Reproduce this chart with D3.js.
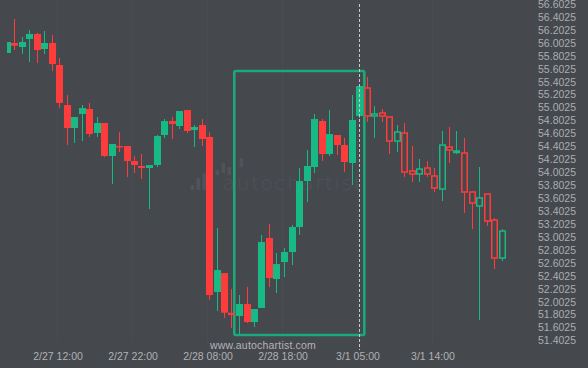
<!DOCTYPE html>
<html>
<head>
<meta charset="utf-8">
<script src="https://cdn.jsdelivr.net/npm/d3@7"></script>
<style>
  html, body { margin: 0; padding: 0; background: #45484d; }
  svg { display: block; font-family: "Liberation Sans", Arial, sans-serif; }
</style>
</head>
<body>
<svg id="chart" width="588" height="368"></svg>
<script>
// hourly candles, index 0 = first bar on screen
const opens  = [55.845, 56.000, 55.938, 56.062, 56.139, 55.907, 56.000, 55.660, 55.042, 54.686,
                54.903, 54.980, 54.609, 54.763, 54.253, 54.408, 54.408, 54.176, 54.099, 54.068,
                54.114, 54.578, 54.794, 54.717, 54.964, 54.655, 54.732, 54.547, 52.152, 52.445,
                51.832, 51.781, 51.966, 51.688, 51.905, 52.986, 52.352, 52.615, 52.770, 53.156,
                53.867, 54.083, 54.794, 54.284, 54.578, 54.423, 54.145, 54.872, 55.304, 54.872,
                54.918, 54.856, 54.485, 54.609, 54.022, 53.975, 54.068, 53.945, 53.743, 54.392,
                54.315, 54.300, 53.697, 53.481, 53.666, 53.264, 52.677];
const highs  = [56.015, 56.371, 56.093, 56.201, 56.154, 56.185, 56.123, 55.768, 55.196, 54.856,
                55.042, 55.073, 54.856, 54.763, 54.439, 54.624, 54.408, 54.253, 54.284, 54.114,
                54.578, 54.825, 54.856, 54.949, 54.964, 54.732, 54.825, 54.624, 53.141, 52.445,
                52.198, 52.105, 52.229, 51.889, 53.033, 53.203, 52.755, 52.832, 53.187, 54.068,
                54.346, 54.903, 54.825, 54.964, 54.578, 54.532, 55.196, 55.366, 55.474, 55.026,
                54.980, 54.856, 54.732, 54.763, 54.408, 54.207, 54.176, 54.068, 54.640, 54.702,
                54.640, 54.532, 53.713, 54.083, 53.666, 53.295, 53.125];
const lows   = [55.845, 55.892, 55.830, 55.706, 55.691, 55.830, 55.567, 54.995, 54.423, 54.454,
                54.485, 54.547, 54.547, 54.238, 53.821, 54.315, 53.929, 53.991, 53.898, 53.434,
                54.083, 54.532, 54.516, 54.671, 54.609, 54.392, 54.408, 52.028, 51.858, 51.750,
                51.595, 51.503, 51.673, 51.611, 51.905, 52.229, 52.136, 52.383, 52.569, 53.033,
                53.543, 53.991, 54.176, 54.253, 54.269, 54.006, 53.805, 54.841, 54.779, 54.532,
                54.779, 54.284, 54.315, 53.929, 53.852, 53.852, 53.929, 53.697, 53.558, 54.145,
                54.284, 53.372, 53.125, 51.719, 53.172, 52.507, 52.631];
const closes = [56.015, 55.958, 56.015, 56.139, 55.892, 56.000, 55.675, 55.073, 54.686, 54.856,
                54.995, 54.593, 54.763, 54.253, 54.439, 54.392, 54.176, 54.114, 54.068, 54.114,
                54.562, 54.794, 54.748, 54.949, 54.640, 54.702, 54.516, 52.105, 52.491, 51.832,
                51.796, 51.966, 51.688, 51.889, 52.924, 52.368, 52.584, 52.770, 53.156, 53.867,
                54.099, 54.825, 54.284, 54.593, 54.423, 54.161, 54.810, 55.335, 54.872, 54.903,
                54.872, 54.485, 54.624, 54.006, 53.975, 54.052, 53.975, 53.759, 54.423, 54.346,
                54.331, 53.697, 53.527, 53.605, 53.249, 52.677, 53.094];
const firstForecast = 48;   // bars from here are drawn hollow

const xTickIdx = [7, 17, 27, 37, 47, 57];
const xTickLabels = ["2/27 12:00", "2/27 22:00", "2/28 08:00", "2/28 18:00", "3/1 05:00", "3/1 14:00"];
const yTicks = d3.range(27).map(i => 51.4025 + i * 0.2);

// pattern box [from index, to index, top price, bottom price] and the time marker
const boxIdx = [30.37, 47.71];
const boxPrice = [55.567, 51.487];
const markerIdx = 47;

const logoBars = [[-9.5, 185, 190], [-3.5, 178, 190], [2.5, 173, 190], [15.5, 170, 175],
                  [21.5, 163, 173], [27.5, 167, 175], [39.5, 158, 167]];

document.addEventListener("DOMContentLoaded", function () {
    const green = "#17b985";
    const red = "#ff3c3c";
    const bg = "#45484d";

    const svg = d3.select("#chart");

    const x = d3.scaleLinear().domain([0, 66]).range([6.5, 501.5]);
    const y = d3.scaleLinear().domain([51.4025, 56.6025]).range([340.5, 4]);

    const data = opens.map((o, i) => ({
        i: i, o: o, h: highs[i], l: lows[i], c: closes[i],
        up: closes[i] >= o, hollow: i >= firstForecast
    }));

    // plot area starts a few px in from the left edge
    svg.append("defs").append("clipPath")
        .attr("id", "plot-clip")
        .append("rect")
        .attr("x", 7).attr("y", 0)
        .attr("width", 530).attr("height", 368);

    // faint vertical grid at time ticks
    svg.append("g")
        .selectAll("line")
        .data(xTickIdx)
        .join("line")
        .attr("x1", d => x(d) - 1.5)
        .attr("x2", d => x(d) - 1.5)
        .attr("y1", 0)
        .attr("y2", 342)
        .attr("stroke", "rgba(255,255,255,0.025)");

    // watermark
    const wm = svg.append("g").attr("fill", "#50535a");
    wm.selectAll("rect")
        .data(logoBars)
        .join("rect")
        .attr("x", d => 200 + d[0])
        .attr("y", d => d[1])
        .attr("width", 3.5)
        .attr("height", d => d[2] - d[1])
        .attr("rx", 1);
    wm.append("text")
        .attr("x", 223)
        .attr("y", 190)
        .attr("font-size", "20px")
        .attr("letter-spacing", "1.6px")
        .attr("font-family", "'DejaVu Sans', sans-serif")
        .attr("font-weight", 200)
        .text("autochartist");

    // pattern box
    svg.append("rect")
        .attr("x", x(boxIdx[0]))
        .attr("y", y(boxPrice[0]))
        .attr("width", x(boxIdx[1]) - x(boxIdx[0]))
        .attr("height", y(boxPrice[1]) - y(boxPrice[0]))
        .attr("rx", 1.5)
        .attr("fill", "none")
        .attr("stroke", "#1ba97b")
        .attr("stroke-width", 2.6);

    const candles = svg.append("g")
        .attr("clip-path", "url(#plot-clip)")
        .selectAll("g")
        .data(data)
        .join("g");

    candles.append("line")
        .attr("x1", d => Math.round(x(d.i)) + 0.5)
        .attr("x2", d => Math.round(x(d.i)) + 0.5)
        .attr("y1", d => y(d.h))
        .attr("y2", d => y(d.l))
        .attr("stroke", d => d.up ? green : red)
        .attr("stroke-width", 1);

    candles.filter(d => !d.hollow).append("rect")
        .attr("x", d => Math.round(x(d.i)) - 3)
        .attr("width", 7)
        .attr("y", d => y(Math.max(d.o, d.c)))
        .attr("height", d => Math.max(1.5, Math.abs(y(d.o) - y(d.c))))
        .attr("fill", d => d.up ? green : red);

    candles.filter(d => d.hollow).append("rect")
        .attr("x", d => Math.round(x(d.i)) - 2.25)
        .attr("width", 5.5)
        .attr("y", d => y(Math.max(d.o, d.c)))
        .attr("height", d => Math.max(1.5, Math.abs(y(d.o) - y(d.c))))
        .attr("fill", bg)
        .attr("stroke", d => d.up ? green : red)
        .attr("stroke-width", 1.5);

    // time marker
    svg.append("line")
        .attr("x1", Math.round(x(markerIdx)) + 0.5)
        .attr("x2", Math.round(x(markerIdx)) + 0.5)
        .attr("y1", 4)
        .attr("y2", 350)
        .attr("stroke", "#c9cacc")
        .attr("stroke-width", 1)
        .attr("stroke-dasharray", "3,2");

    // price axis
    const yAxis = svg.append("g")
        .attr("transform", "translate(576,0)")
        .call(d3.axisRight(y).tickValues(yTicks).tickSize(0).tickFormat(d3.format(".4f")));
    yAxis.select(".domain").remove();
    yAxis.selectAll("text")
        .attr("x", 0)
        .attr("text-anchor", "end")
        .attr("fill", "#abadb0")
        .attr("font-size", "10.5px")
        .attr("font-family", "'Liberation Sans', Arial, sans-serif");

    // time axis
    const xAxis = svg.append("g")
        .attr("transform", "translate(-1.5,360)")
        .call(d3.axisBottom(x).tickValues(xTickIdx).tickSize(0).tickFormat((d, i) => xTickLabels[i]));
    xAxis.select(".domain").remove();
    xAxis.selectAll("text")
        .attr("y", 0)
        .attr("dy", 0)
        .attr("fill", "#b0b2b5")
        .attr("font-size", "10.5px")
        .attr("font-family", "'Liberation Sans', Arial, sans-serif");

    svg.append("text")
        .attr("x", 263)
        .attr("y", 349)
        .attr("text-anchor", "middle")
        .attr("fill", "#b3b5b8")
        .attr("font-size", "10.5px")
        .attr("letter-spacing", "0.2px")
        .text("www.autochartist.com");
});
</script>
</body>
</html>
